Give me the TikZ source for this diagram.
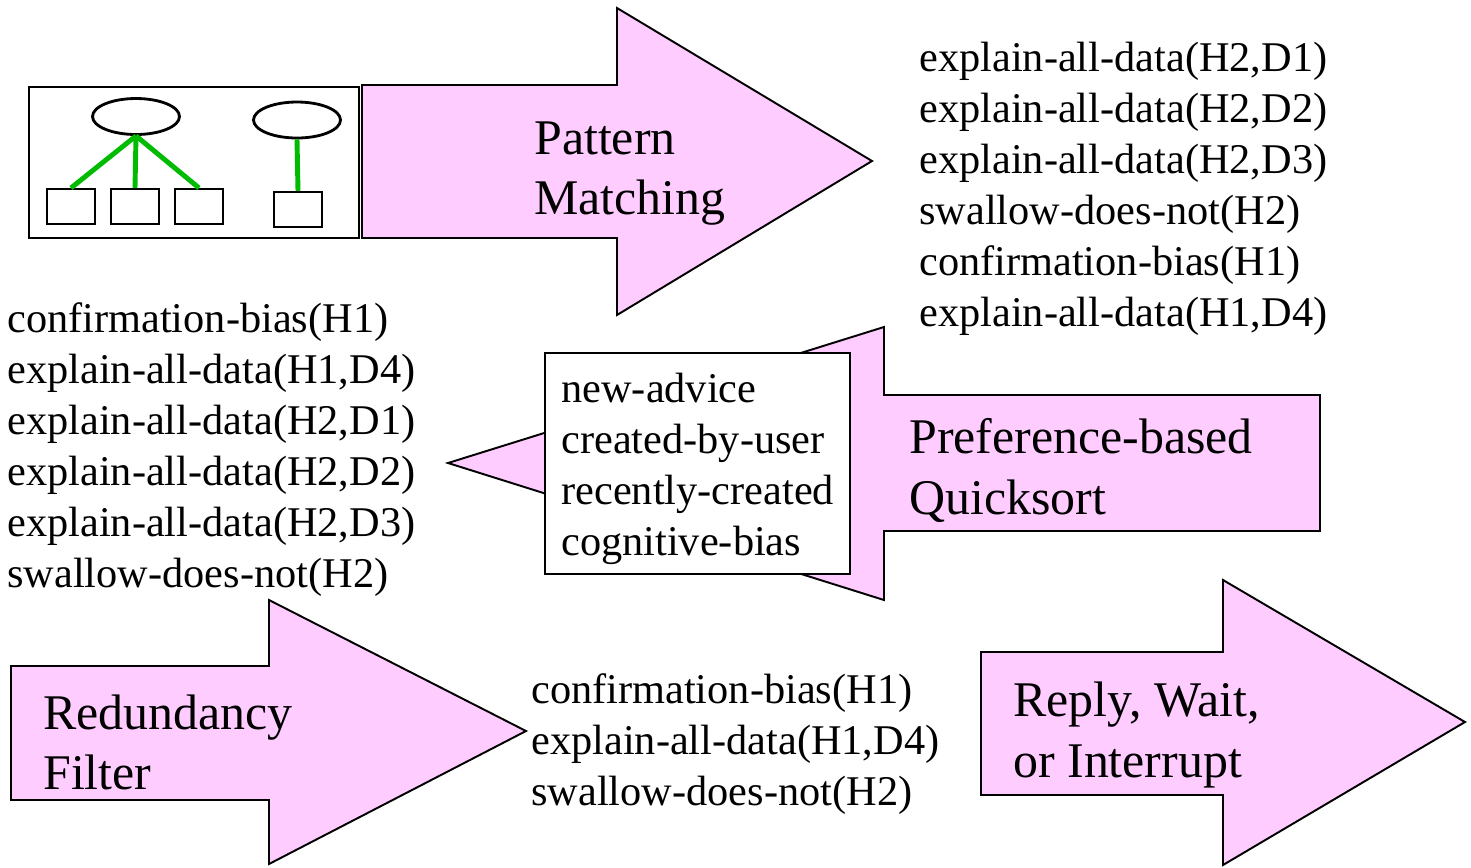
\documentclass[tikz,border=0pt]{standalone}
\usepackage{fontspec}
\setmainfont{Liberation Serif}
\usetikzlibrary{shapes.geometric}
\definecolor{arrowpink}{RGB}{255,204,255}
\definecolor{linkgreen}{RGB}{0,187,0}
\tikzset{
  flow/.style={draw=black, fill=arrowpink, line width=1.1pt, line join=miter},
  biglabel/.style={anchor=base west, inner sep=0pt, font=\fontsize{28.4}{34}\selectfont},
  item/.style={anchor=base west, inner sep=0pt, font=\fontsize{24.1}{29}\selectfont},
  frame/.style={draw=black, line width=1.3pt, inner sep=0pt},
  goal/.style={ellipse, draw=black, line width=1.6pt, inner sep=0pt,
               minimum width=1.74cm, minimum height=0.72cm},
  leaf/.style={rectangle, draw=black, line width=1.2pt, inner sep=0pt,
               minimum width=0.96cm, minimum height=0.70cm},
  link/.style={draw=linkgreen, line width=2.8pt}
}
\begin{document}
\begin{tikzpicture}[x=0.02cm, y=-0.02cm]
\useasboundingbox (0,0) rectangle (1471,867);

% small goal/data graph
\node[frame, rectangle, minimum width=6.6cm, minimum height=3.02cm] (model) at (194,162.5) {};
\node[goal] (g1) at (136,116.5) {};
\node[goal] (g2) at (297,120) {};
\node[leaf] (d1) at (71,206.5) {};
\node[leaf] (d2) at (135,206.5) {};
\node[leaf] (d3) at (199,206.5) {};
\node[leaf] (d4) at (298,209.5) {};
\draw[link] (g1.south) -- (d1.north);
\draw[link] (g1.south) -- (d2.north);
\draw[link] (g1.south) -- (d3.north);
\draw[link] (g2.south) -- (d4.north);

% process arrows
\draw[flow] (362,85) -- (617,85) -- (617,8) -- (872,161) -- (617,315) -- (617,238) -- (362,238) -- cycle;
\draw[flow] (1320,395) -- (884,395) -- (884,327) -- (448,463) -- (884,600) -- (884,531) -- (1320,531) -- cycle;
\draw[flow] (11,666) -- (269,666) -- (269,600) -- (526,731) -- (269,864) -- (269,800) -- (11,800) -- cycle;
\draw[flow] (981,652) -- (1223,652) -- (1223,580) -- (1465,722) -- (1223,865) -- (1223,795) -- (981,795) -- cycle;

\node[biglabel] (pm1) at (534,154) {Pattern};
\node[biglabel] (pm2) at (534,214) {Matching};
\node[biglabel] (pq1) at (909,453) {Preference-based};
\node[biglabel] (pq2) at (909,514) {Quicksort};
\node[biglabel] (rf1) at (43,729) {Redundancy};
\node[biglabel] (rf2) at (43,789) {Filter};
\node[biglabel] (rw1) at (1013,716) {Reply, Wait,};
\node[biglabel] (rw2) at (1013,777) {or Interrupt};

% sort criteria
\node[frame, rectangle, fill=white, minimum width=6.1cm, minimum height=4.42cm] (criteria) at (697.5,463.5) {};
\foreach \t [count=\i from 0] in {new-advice, created-by-user, recently-created, cognitive-bias}
  \node[item] (c\i) at (561,{402+51*\i}) {\t};

% matched advice
\foreach \t [count=\i from 0] in {{explain-all-data(H2,D1)}, {explain-all-data(H2,D2)}, {explain-all-data(H2,D3)}, {swallow-does-not(H2)}, {confirmation-bias(H1)}, {explain-all-data(H1,D4)}}
  \node[item] (m\i) at (919,{71+51*\i}) {\t};

% sorted advice
\foreach \t [count=\i from 0] in {{confirmation-bias(H1)}, {explain-all-data(H1,D4)}, {explain-all-data(H2,D1)}, {explain-all-data(H2,D2)}, {explain-all-data(H2,D3)}, {swallow-does-not(H2)}}
  \node[item] (s\i) at (7,{332+51*\i}) {\t};

% filtered advice
\foreach \t [count=\i from 0] in {{confirmation-bias(H1)}, {explain-all-data(H1,D4)}, {swallow-does-not(H2)}}
  \node[item] (f\i) at (531,{703+51*\i}) {\t};
\end{tikzpicture}
\end{document}
